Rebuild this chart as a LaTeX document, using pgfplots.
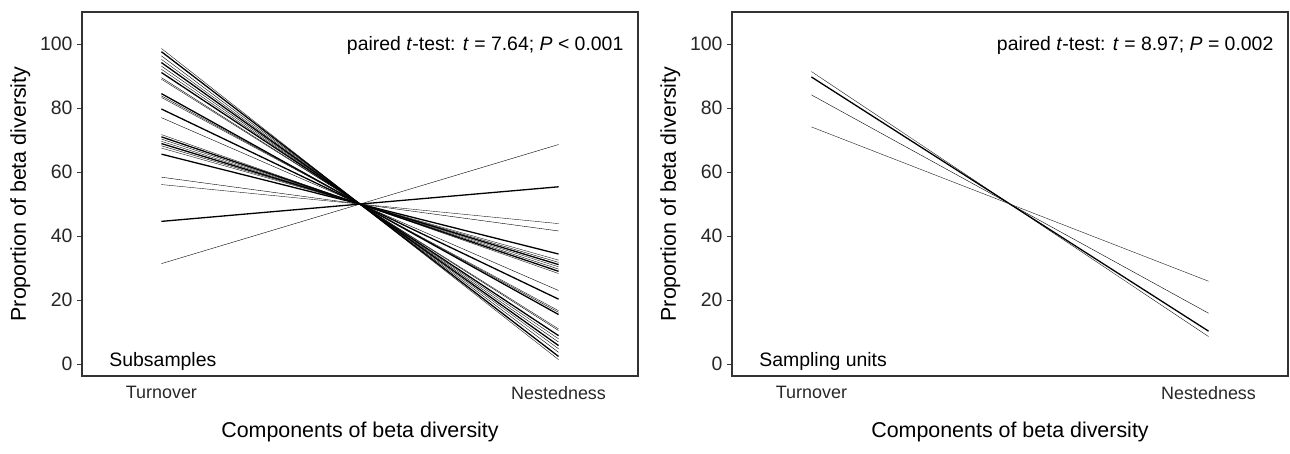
\documentclass[border=0pt]{standalone}
\usepackage{fontspec}
\setmainfont{Liberation Sans}
\usepackage{pgfplots}
\pgfplotsset{compat=1.18}

\pgfplotsset{
  betapanel/.style={
    at={(#1,0)}, anchor=south west,
    scale only axis, width=556bp, height=364bp,
    xmin=0.8, xmax=2.2, ymin=-3.7, ymax=110,
    xtick={1,2}, xticklabels={Turnover,Nestedness},
    ytick={0,20,40,60,80,100},
    ytick pos=left,
    major x tick style={draw=none},
    tick align=outside, major tick length=5bp,
    y tick style={line width=1bp, black!80},
    axis line style={line width=1.3bp, black!80},
    tick label style={text=black!85},
    xticklabel style={font=\fontsize{18}{21}\selectfont, yshift=-2bp},
    yticklabel style={font=\fontsize{19.5}{22}\selectfont, xshift=-1bp},
    /pgf/number format/assume math mode=true,
    xlabel={Components of beta diversity},
    ylabel={Proportion of beta diversity},
    label style={font=\fontsize{21.5}{25}\selectfont},
    xlabel style={yshift=-15bp},
    ylabel style={yshift=3bp},
    cycle list={{black!90, line width=1.3bp, no marks}},
  }
}

\begin{document}
\begin{tikzpicture}
% left panel: subsamples
\begin{axis}[betapanel=0bp]
\addplot coordinates {(1,98.6)(2,1.4)};
\addplot coordinates {(1,97.6)(2,2.4)};
\addplot coordinates {(1,96.3)(2,3.7)};
\addplot coordinates {(1,95.2)(2,4.8)};
\addplot coordinates {(1,94.2)(2,5.8)};
\addplot coordinates {(1,93.1)(2,6.9)};
\addplot coordinates {(1,92.1)(2,7.9)};
\addplot coordinates {(1,91.1)(2,8.9)};
\addplot coordinates {(1,89.5)(2,10.5)};
\addplot coordinates {(1,89.0)(2,11.0)};
\addplot coordinates {(1,84.5)(2,15.5)};
\addplot coordinates {(1,83.8)(2,16.2)};
\addplot coordinates {(1,83.3)(2,16.7)};
\addplot coordinates {(1,79.7)(2,20.3)};
\addplot coordinates {(1,77.0)(2,23.0)};
\addplot coordinates {(1,71.7)(2,28.3)};
\addplot coordinates {(1,71.0)(2,29.0)};
\addplot coordinates {(1,70.3)(2,29.7)};
\addplot coordinates {(1,69.6)(2,30.4)};
\addplot coordinates {(1,68.9)(2,31.1)};
\addplot coordinates {(1,68.2)(2,31.8)};
\addplot coordinates {(1,67.5)(2,32.5)};
\addplot coordinates {(1,65.6)(2,34.4)};
\addplot coordinates {(1,58.4)(2,41.6)};
\addplot coordinates {(1,56.1)(2,43.9)};
\addplot coordinates {(1,44.6)(2,55.4)};
\addplot coordinates {(1,31.4)(2,68.6)};
\node[anchor=east, font=\fontsize{19.5}{23}\selectfont] at (rel axis cs:0.98,0.909)
  {paired \textit{t}-test: \textit{t} = 7.64; \textit{P} < 0.001};
\node[anchor=west, font=\fontsize{19.5}{23}\selectfont] at (rel axis cs:0.043,0.04)
  {Subsamples};
\end{axis}

% right panel: sampling units
\begin{axis}[betapanel=650bp]
\addplot coordinates {(1,91.4)(2,8.6)};
\addplot coordinates {(1,89.7)(2,10.3)};
\addplot coordinates {(1,84.1)(2,15.9)};
\addplot coordinates {(1,74.1)(2,25.9)};
\node[anchor=east, font=\fontsize{19.5}{23}\selectfont] at (rel axis cs:0.98,0.909)
  {paired \textit{t}-test: \textit{t} = 8.97; \textit{P} = 0.002};
\node[anchor=west, font=\fontsize{19.5}{23}\selectfont] at (rel axis cs:0.043,0.04)
  {Sampling units};
\end{axis}

\pgfresetboundingbox
\path[use as bounding box] (-82bp,-78bp) rectangle (1208bp,376bp);
\end{tikzpicture}
\end{document}
